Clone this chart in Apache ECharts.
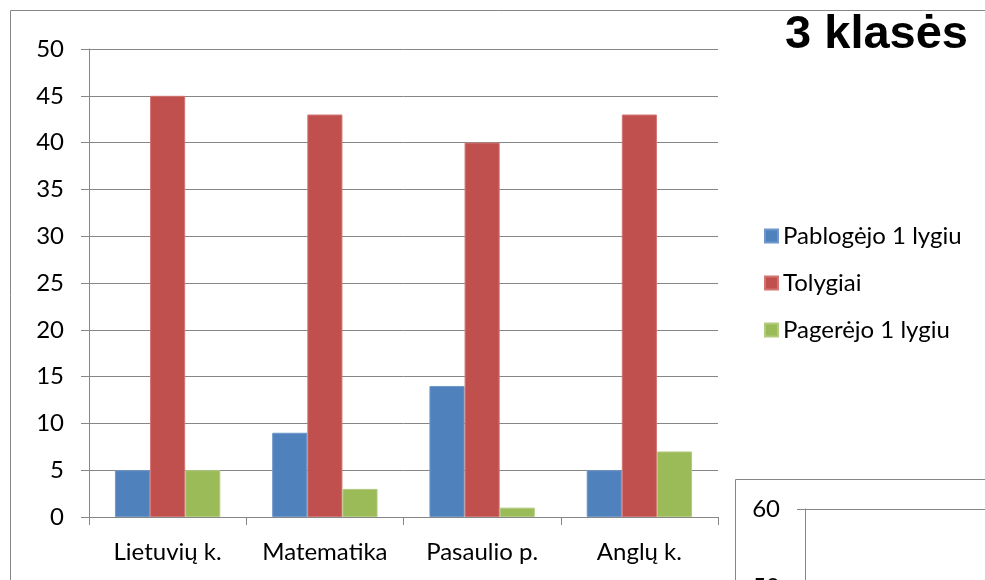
<!DOCTYPE html>
<html><head><meta charset="utf-8">
<script src="https://cdn.jsdelivr.net/npm/echarts@6/dist/echarts.min.js"></script>
<style>html,body{margin:0;padding:0;background:#fff}#c{width:985px;height:580px}</style>
</head><body><div id="c"></div>
<script>
var categories = ['Lietuvių k.', 'Matematika', 'Pasaulio p.', 'Anglų k.'];
var pablogejo = [5, 9, 14, 5];
var tolygiai = [45, 43, 40, 43];
var pagerejo = [5, 3, 1, 7];
var seriesNames = ['Pablogėjo 1 lygiu', 'Tolygiai', 'Pagerėjo 1 lygiu'];
var colors = ['#4F81BD', '#C0504D', '#9BBB59'];
var borderColors = ['#6E97CB', '#D27572', '#B2CC7E'];
var title = '3 klasės';

var FONT = 'Lato';
var grey = '#868686';
var chart = echarts.init(document.getElementById('c'));
var data = [pablogejo, tolygiai, pagerejo];
chart.setOption({
  animation: false,
  color: colors,
  title: {text: title, right: 17, top: 12, padding: 0,
    textStyle: {fontFamily: 'Liberation Sans', fontWeight: 'bold', fontSize: 47, color: '#000'}},
  legend: {orient: 'vertical', left: 759, top: 219, itemWidth: 13, itemHeight: 13, itemGap: 23,
    icon: 'rect', textStyle: {fontFamily: FONT, fontSize: 24, color: '#000'},
    data: seriesNames},
  graphic: [
    {type: 'rect', z: -10, shape: {x: 10.5, y: 10.5, width: 1100, height: 700},
      style: {fill: '#fff', stroke: grey, lineWidth: 1}},
    {type: 'rect', z: 50, shape: {x: 735.5, y: 479.5, width: 400, height: 300},
      style: {fill: '#fff', stroke: grey, lineWidth: 1}}
  ],
  grid: [
    {left: 89, top: 49, right: 267, bottom: 63, outerBoundsMode: 'none', containLabel: false},
    {left: 805, top: 509, width: 400, height: 468, outerBoundsMode: 'none', containLabel: false}
  ],
  xAxis: [
    {type: 'category', gridIndex: 0, data: categories,
      axisLine: {lineStyle: {color: grey}},
      axisTick: {show: true, interval: 0, length: 8, lineStyle: {color: grey}},
      axisLabel: {interval: 0, fontFamily: FONT, fontSize: 24, color: '#000', margin: 23}},
    {type: 'category', gridIndex: 1, data: [''], show: false}
  ],
  yAxis: [
    {type: 'value', gridIndex: 0, min: 0, max: 50, interval: 5,
      axisLine: {show: true, lineStyle: {color: grey}},
      axisTick: {show: true, length: 8, lineStyle: {color: grey}},
      splitLine: {lineStyle: {color: grey}},
      axisLabel: {fontFamily: FONT, fontSize: 24, color: '#000', margin: 25}},
    {type: 'value', gridIndex: 1, min: 0, max: 60, interval: 10, z: 60,
      axisLine: {show: true, lineStyle: {color: grey}},
      axisTick: {show: true, length: 8, lineStyle: {color: grey}},
      splitLine: {lineStyle: {color: grey}},
      axisLabel: {fontFamily: FONT, fontSize: 24, color: '#000', margin: 25}}
  ],
  series: seriesNames.map(function (n, i) {
    return {name: n, type: 'bar', xAxisIndex: 0, yAxisIndex: 0, data: data[i],
      barGap: '0%', barCategoryGap: '33%',
      itemStyle: {color: colors[i], borderColor: borderColors[i], borderWidth: 1}};
  }).concat([{type: 'bar', xAxisIndex: 1, yAxisIndex: 1, data: [], z: 60}])
});
</script></body></html>
